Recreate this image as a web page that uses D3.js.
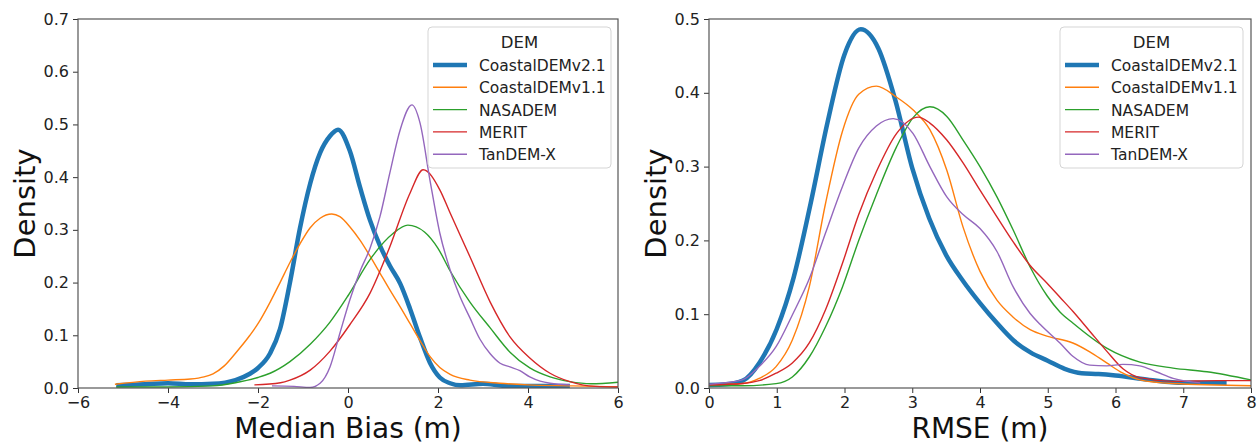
<!DOCTYPE html>
<html>
<head>
<meta charset="utf-8">
<script src="https://cdn.jsdelivr.net/npm/d3@7"></script>
<style>
  html, body { margin: 0; padding: 0; background: #fff; }
  svg { display: block; font-family: "DejaVu Sans", sans-serif; }
</style>
</head>
<body>
<svg id="chart" width="1258" height="445"></svg>
<script>
// ---------------- DATA ----------------
const seriesNames = ["CoastalDEMv2.1", "CoastalDEMv1.1", "NASADEM", "MERIT", "TanDEM-X"];
const seriesColors = ["#1f77b4", "#ff7f0e", "#2ca02c", "#d62728", "#9467bd"];
const legendTitle = "DEM";

// Left panel: Median Bias (m) densities, [x, density]
const biasV21 = [[-5.15,0.005],[-4.5,0.007],[-4,0.009],[-3.5,0.007],[-3,0.008],[-2.5,0.015],[-2.18,0.027],[-2,0.038],[-1.73,0.066],[-1.51,0.112],[-1.29,0.2],[-1.07,0.302],[-0.84,0.388],[-0.62,0.446],[-0.4,0.478],[-0.22,0.49],[0.04,0.45],[0.27,0.38],[0.49,0.318],[0.71,0.27],[0.93,0.232],[1.16,0.198],[1.38,0.15],[1.6,0.096],[1.82,0.048],[2.04,0.02],[2.27,0.009],[2.5,0.005],[3.0,0.008],[3.5,0.004],[4.0,0.004],[4.93,0.004]];
const biasV11 = [[-5.18,0.007],[-4.5,0.013],[-4,0.015],[-3.5,0.017],[-3.2,0.021],[-3,0.027],[-2.75,0.042],[-2.5,0.066],[-2.18,0.1],[-2,0.122],[-1.73,0.163],[-1.51,0.2],[-1.29,0.238],[-1.07,0.273],[-0.84,0.304],[-0.62,0.322],[-0.36,0.33],[-0.18,0.325],[0.04,0.306],[0.27,0.28],[0.49,0.25],[0.71,0.218],[0.93,0.186],[1.16,0.154],[1.38,0.122],[1.6,0.09],[1.82,0.06],[2.04,0.039],[2.27,0.026],[2.71,0.015],[3.38,0.009],[4,0.006],[5,0.004],[6,0.002]];
const biasNASA = [[-5.15,0.002],[-4,0.002],[-3,0.004],[-2.5,0.01],[-2,0.02],[-1.73,0.028],[-1.29,0.05],[-0.84,0.083],[-0.4,0.125],[0,0.175],[0.5,0.245],[1,0.293],[1.33,0.309],[1.7,0.296],[2,0.265],[2.27,0.222],[2.71,0.163],[3.16,0.114],[3.6,0.068],[4.04,0.038],[4.49,0.021],[4.93,0.012],[5.4,0.008],[6,0.011]];
const biasMERIT = [[-2.08,0.006],[-1.5,0.01],[-1.29,0.015],[-0.84,0.034],[-0.4,0.07],[0.04,0.12],[0.49,0.18],[0.93,0.268],[1.38,0.37],[1.67,0.414],[2.04,0.376],[2.27,0.332],[2.71,0.249],[3.16,0.163],[3.6,0.097],[4.04,0.057],[4.49,0.028],[4.93,0.012],[5.2,0.006],[5.5,0.003],[6,0.002]];
const biasTanDEM = [[-1.69,0.004],[-1.2,0.003],[-0.84,0.001],[-0.62,0.009],[-0.4,0.04],[-0.18,0.104],[0.04,0.167],[0.27,0.222],[0.49,0.265],[0.71,0.325],[0.93,0.408],[1.16,0.49],[1.42,0.537],[1.6,0.503],[1.82,0.395],[2.04,0.294],[2.27,0.224],[2.49,0.173],[2.71,0.133],[2.93,0.093],[3.16,0.065],[3.38,0.047],[3.6,0.04],[3.82,0.033],[4.04,0.021],[4.27,0.013],[4.49,0.009],[4.93,0.006]];

// Right panel: RMSE (m) densities, [x, density]
const rmseV21 = [[0,0.004],[0.25,0.005],[0.5,0.01],[0.75,0.035],[1.0,0.08],[1.25,0.15],[1.5,0.25],[1.75,0.36],[2.0,0.452],[2.24,0.486],[2.5,0.46],[2.75,0.39],[3.0,0.298],[3.25,0.23],[3.5,0.18],[3.75,0.145],[4.0,0.115],[4.25,0.088],[4.5,0.064],[4.75,0.048],[5.0,0.037],[5.25,0.026],[5.5,0.02],[5.75,0.019],[6.0,0.017],[6.5,0.011],[7.0,0.007],[7.64,0.007]];
const rmseV11 = [[0,0.004],[0.5,0.006],[0.74,0.013],[0.99,0.029],[1.23,0.065],[1.48,0.137],[1.72,0.25],[1.97,0.348],[2.21,0.398],[2.47,0.409],[2.77,0.394],[3.01,0.377],[3.26,0.35],[3.51,0.295],[3.75,0.218],[4.0,0.158],[4.25,0.119],[4.49,0.096],[4.74,0.079],[5.0,0.07],[5.37,0.061],[5.62,0.049],[5.87,0.034],[6.11,0.02],[6.36,0.011],[6.85,0.006],[8,0.003]];
const rmseNASA = [[0,0.003],[0.5,0.003],[0.99,0.006],[1.23,0.015],[1.48,0.042],[1.72,0.083],[1.97,0.137],[2.21,0.2],[2.47,0.262],[2.77,0.327],[3.01,0.366],[3.26,0.381],[3.51,0.368],[3.75,0.336],[4.0,0.3],[4.25,0.259],[4.49,0.214],[4.74,0.164],[4.99,0.125],[5.18,0.103],[5.37,0.088],[5.87,0.054],[6.36,0.035],[6.85,0.027],[7.35,0.022],[8,0.011]];
const rmseMERIT = [[0,0.004],[0.5,0.006],[0.74,0.01],[0.99,0.02],[1.23,0.034],[1.48,0.061],[1.72,0.106],[1.97,0.169],[2.21,0.235],[2.47,0.293],[2.77,0.345],[3.09,0.367],[3.26,0.359],[3.51,0.336],[3.75,0.305],[4.0,0.268],[4.25,0.232],[4.49,0.198],[4.74,0.166],[4.99,0.142],[5.18,0.123],[5.37,0.104],[5.62,0.077],[5.87,0.05],[6.11,0.026],[6.36,0.014],[6.85,0.009],[7.5,0.01],[8,0.01]];
const rmseTanDEM = [[0,0.005],[0.49,0.011],[0.74,0.029],[0.99,0.056],[1.23,0.099],[1.48,0.148],[1.72,0.21],[1.97,0.273],[2.21,0.325],[2.47,0.355],[2.72,0.365],[3.01,0.345],[3.26,0.3],[3.51,0.259],[3.75,0.235],[4.0,0.216],[4.25,0.185],[4.49,0.137],[4.74,0.101],[4.89,0.086],[5.18,0.061],[5.37,0.043],[5.62,0.031],[5.87,0.03],[6.11,0.032],[6.36,0.03],[6.6,0.022],[6.85,0.013],[7.25,0.007]];

const biasXTicks = [-6, -4, -2, 0, 2, 4, 6];
const biasYTicks = [0, 0.1, 0.2, 0.3, 0.4, 0.5, 0.6, 0.7];
const rmseXTicks = [0, 1, 2, 3, 4, 5, 6, 7, 8];
const rmseYTicks = [0, 0.1, 0.2, 0.3, 0.4, 0.5];

// ---------------- DRAW ----------------
const svg = d3.select("#chart");
const fmtX = d => (d < 0 ? "\u2212" + Math.abs(d) : String(d));
const fmtY = d3.format(".1f");

function panel(opts) {
  const { id, left, right, top, bottom, xDomain, yDomain, xTicks, yTicks, series, xLabel, yLabelX, legendX } = opts;
  const x = d3.scaleLinear().domain(xDomain).range([left, right]);
  const y = d3.scaleLinear().domain(yDomain).range([bottom, top]);
  const g = svg.append("g");

  g.append("clipPath").attr("id", "clip" + id)
    .append("rect").attr("x", left).attr("y", top).attr("width", right - left).attr("height", bottom - top);

  const line = d3.line().x(d => x(d[0])).y(d => y(d[1])).curve(d3.curveMonotoneX);
  const lines = g.append("g").attr("clip-path", `url(#clip${id})`);
  series.forEach((s, i) => {
    lines.append("path")
      .datum(s)
      .attr("fill", "none")
      .attr("stroke", seriesColors[i])
      .attr("stroke-width", i === 0 ? 4.5 : 1.4)
      .attr("stroke-linejoin", "round")
      .attr("stroke-linecap", "butt")
      .attr("d", line);
  });

  // axes
  const xAxis = d3.axisBottom(x).tickValues(xTicks).tickFormat(fmtX).tickSize(5).tickPadding(2.5);
  const yAxis = d3.axisLeft(y).tickValues(yTicks).tickFormat(fmtY).tickSize(5).tickPadding(4);
  const gx = g.append("g").attr("transform", `translate(0,${bottom})`).call(xAxis);
  const gy = g.append("g").attr("transform", `translate(${left},0)`).call(yAxis);
  [gx, gy].forEach(a => {
    a.select(".domain").remove();
    a.selectAll(".tick line").attr("stroke", "#333").attr("stroke-width", 1);
    a.selectAll(".tick text").attr("fill", "#222").style("font-size", "16px").style("font-family", "DejaVu Sans");
  });
  gx.selectAll(".tick text").attr("dy", "0.75em");

  // frame
  g.append("rect").attr("x", left).attr("y", top).attr("width", right - left).attr("height", bottom - top)
    .attr("fill", "none").attr("stroke", "#555").attr("stroke-width", 1.2);

  // labels
  g.append("text").attr("x", (left + right) / 2).attr("y", 437.5).attr("text-anchor", "middle")
    .style("font-size", "28px").attr("fill", "#111").text(xLabel);
  g.append("text").attr("transform", `translate(${yLabelX},${(top + bottom) / 2}) rotate(-90)`)
    .attr("text-anchor", "middle").style("font-size", "29px").attr("fill", "#111").text("Density");

  // legend
  const lg = g.append("g").attr("transform", `translate(${legendX},27)`);
  lg.append("rect").attr("x", 0).attr("y", 0).attr("width", 183).attr("height", 141).attr("rx", 4)
    .attr("fill", "#fff").attr("fill-opacity", 0.8).attr("stroke", "#d5d5d5").attr("stroke-width", 1);
  lg.append("text").attr("x", 91.5).attr("y", 21).attr("text-anchor", "middle")
    .style("font-size", "16.5px").attr("fill", "#222").text(legendTitle);
  seriesNames.forEach((n, i) => {
    const yy = 38 + i * 22.3;
    lg.append("line").attr("x1", 5).attr("x2", 39).attr("y1", yy).attr("y2", yy)
      .attr("stroke", seriesColors[i]).attr("stroke-width", i === 0 ? 4.5 : 1.4);
    lg.append("text").attr("x", 51).attr("y", yy + 6).style("font-size", "15.5px").attr("fill", "#222").text(n);
  });
}

panel({
  id: "a", left: 78, right: 618, top: 19, bottom: 388,
  xDomain: [-6, 6], yDomain: [0, 0.7], xTicks: biasXTicks, yTicks: biasYTicks,
  series: [biasV21, biasV11, biasNASA, biasMERIT, biasTanDEM],
  xLabel: "Median Bias (m)", yLabelX: 35, legendX: 428
});
panel({
  id: "b", left: 709, right: 1251, top: 19, bottom: 388,
  xDomain: [0, 8], yDomain: [0, 0.5], xTicks: rmseXTicks, yTicks: rmseYTicks,
  series: [rmseV21, rmseV11, rmseNASA, rmseMERIT, rmseTanDEM],
  xLabel: "RMSE (m)", yLabelX: 666, legendX: 1060
});
</script>
</body>
</html>
